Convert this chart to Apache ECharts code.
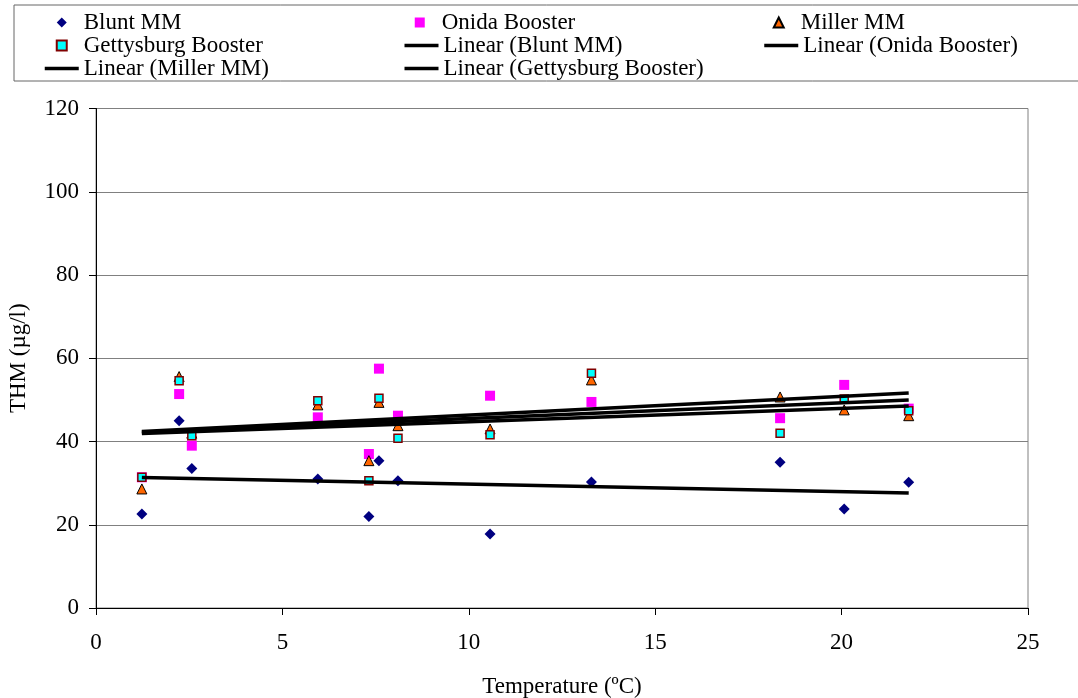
<!DOCTYPE html>
<html>
<head>
<meta charset="utf-8">
<title>THM vs Temperature</title>
<script src="https://cdn.jsdelivr.net/npm/echarts@6/dist/echarts.min.js"></script>
<style>
html, body { margin: 0; padding: 0; background: #fff; }
#chart { width: 1078px; height: 698px; }
</style>
</head>
<body>
<div id="chart"></div>
<script>
// temperature (ºC) of each sampling, shared by all four sites
const temperature = [1.23, 2.23, 2.57, 5.95, 7.32, 7.59, 8.10, 10.57, 13.29, 18.35, 20.07, 21.80]
const bluntMM = [22.6, 45.0, 33.5, 31.0, 22.0, 35.4, 30.6, 17.8, 30.3, 35.0, 23.8, 30.2]
const onidaBooster = [31.4, 51.4, 39.0, 45.8, 37.0, 57.5, 46.2, 51.0, 49.5, 45.6, 53.6, 47.9]
const millerMM = [28.6, 55.6, 42.0, 48.8, 35.4, 49.4, 43.8, 43.0, 54.8, 50.7, 47.6, 46.2]
const gettysburgBooster = [31.4, 54.6, 41.4, 49.8, 30.6, 50.4, 40.8, 41.6, 56.4, 42.0, 50.2, 47.4]

const xTicks = [0, 5, 10, 15, 20, 25]
const yTicks = [0, 20, 40, 60, 80, 100, 120]

const font = 'Liberation Serif'

// legend icons that keep their aspect (built-in symbols get stretched)
const icons = {
  diamond: 'path://M5,0L10,5L5,10L0,5Z',
  square: 'path://M0,0L10,0L10,10L0,10Z',
  triangle: 'path://M5,0L10,10L0,10Z'
}

function pairs (xs, ys) {
  return xs.map((x, i) => [x, ys[i]])
}

// least squares trendline between the smallest and largest x
function trend (xs, ys) {
  const n = xs.length
  const mx = xs.reduce((a, b) => a + b, 0) / n
  const my = ys.reduce((a, b) => a + b, 0) / n
  let sxy = 0
  let sxx = 0
  for (let i = 0; i < n; i++) {
    sxy += (xs[i] - mx) * (ys[i] - my)
    sxx += (xs[i] - mx) * (xs[i] - mx)
  }
  const b = sxy / sxx
  const a = my - b * mx
  const x0 = Math.min(...xs)
  const x1 = Math.max(...xs)
  return [[x0, a + b * x0], [x1, a + b * x1]]
}

function trendSeries (name, ys) {
  return {
    name: name,
    type: 'line',
    data: trend(temperature, ys),
    symbol: 'none',
    lineStyle: { color: '#000', width: 3.5 },
    // transparent so the legend shows only the line
    itemStyle: { color: 'rgba(0,0,0,0)', borderWidth: 0 },
    silent: true
  }
}

const chart = echarts.init(document.getElementById('chart'))

// centred marker icons start 12px in, so widen the text to keep columns even
const wideText = { width: 331 }

const option = {
  animation: false,
  backgroundColor: '#fff',
  legend: {
    left: 14,
    top: 5,
    width: 1080,
    padding: [6, 0, 1, 29],
    itemGap: 0,
    itemWidth: 34,
    itemHeight: 10,
    symbolKeepAspect: true,
    borderColor: '#666',
    borderWidth: 1,
    selectedMode: false,
    lineStyle: { width: 3.5 },
    data: [
      { name: 'Blunt MM', icon: icons.diamond, textStyle: wideText },
      { name: 'Onida Booster', icon: icons.square, textStyle: wideText },
      { name: 'Miller MM', icon: icons.triangle },
      { name: 'Gettysburg Booster', icon: icons.square },
      'Linear (Blunt MM)',
      'Linear (Onida Booster)',
      'Linear (Miller MM)',
      'Linear (Gettysburg Booster)'
    ],
    textStyle: {
      fontFamily: font,
      fontSize: 23,
      lineHeight: 21,
      color: '#000',
      width: 319,
      overflow: 'truncate'
    }
  },
  grid: {
    left: 96,
    right: 50,
    top: 108.5,
    bottom: 90,
    outerBoundsMode: 'none',
    containLabel: false,
    show: true,
    borderColor: '#808080',
    borderWidth: 1
  },
  xAxis: {
    type: 'value',
    min: xTicks[0],
    max: xTicks[xTicks.length - 1],
    interval: xTicks[1] - xTicks[0],
    name: 'Temperature (ºC)',
    nameLocation: 'middle',
    nameGap: 67,
    nameTextStyle: { fontFamily: font, fontSize: 23, color: '#000' },
    axisLine: { lineStyle: { color: '#000', width: 1 } },
    axisTick: { show: true, length: 7, lineStyle: { color: '#000' } },
    axisLabel: { fontFamily: font, fontSize: 23, color: '#000', margin: 23 },
    splitLine: { show: false }
  },
  yAxis: {
    type: 'value',
    min: yTicks[0],
    max: yTicks[yTicks.length - 1],
    interval: yTicks[1] - yTicks[0],
    name: 'THM (µg/l)',
    nameLocation: 'middle',
    nameGap: 66,
    nameTextStyle: { fontFamily: font, fontSize: 23, color: '#000' },
    axisLine: { show: true, lineStyle: { color: '#000', width: 1 } },
    axisTick: { show: true, length: 7, lineStyle: { color: '#000' } },
    axisLabel: { fontFamily: font, fontSize: 23, color: '#000', margin: 17 },
    splitLine: { show: true, lineStyle: { color: '#808080', width: 1 } }
  },
  series: [
    {
      name: 'Blunt MM',
      type: 'scatter',
      data: pairs(temperature, bluntMM),
      symbol: 'diamond',
      symbolSize: 11,
      itemStyle: { color: '#000080', opacity: 1 }
    },
    {
      name: 'Onida Booster',
      type: 'scatter',
      data: pairs(temperature, onidaBooster),
      symbol: 'rect',
      symbolSize: 10,
      itemStyle: { color: '#ff00ff', opacity: 1 }
    },
    {
      name: 'Miller MM',
      type: 'scatter',
      data: pairs(temperature, millerMM),
      symbol: 'triangle',
      symbolSize: 10,
      itemStyle: { color: '#ff6600', borderColor: '#000', borderWidth: 1, opacity: 1 }
    },
    {
      name: 'Gettysburg Booster',
      type: 'scatter',
      data: pairs(temperature, gettysburgBooster),
      symbol: 'rect',
      symbolSize: 8,
      itemStyle: { color: '#00ffff', borderColor: '#800000', borderWidth: 1.5, opacity: 1 }
    },
    trendSeries('Linear (Blunt MM)', bluntMM),
    trendSeries('Linear (Onida Booster)', onidaBooster),
    trendSeries('Linear (Miller MM)', millerMM),
    trendSeries('Linear (Gettysburg Booster)', gettysburgBooster)
  ]
}

chart.setOption(option)
</script>
</body>
</html>
